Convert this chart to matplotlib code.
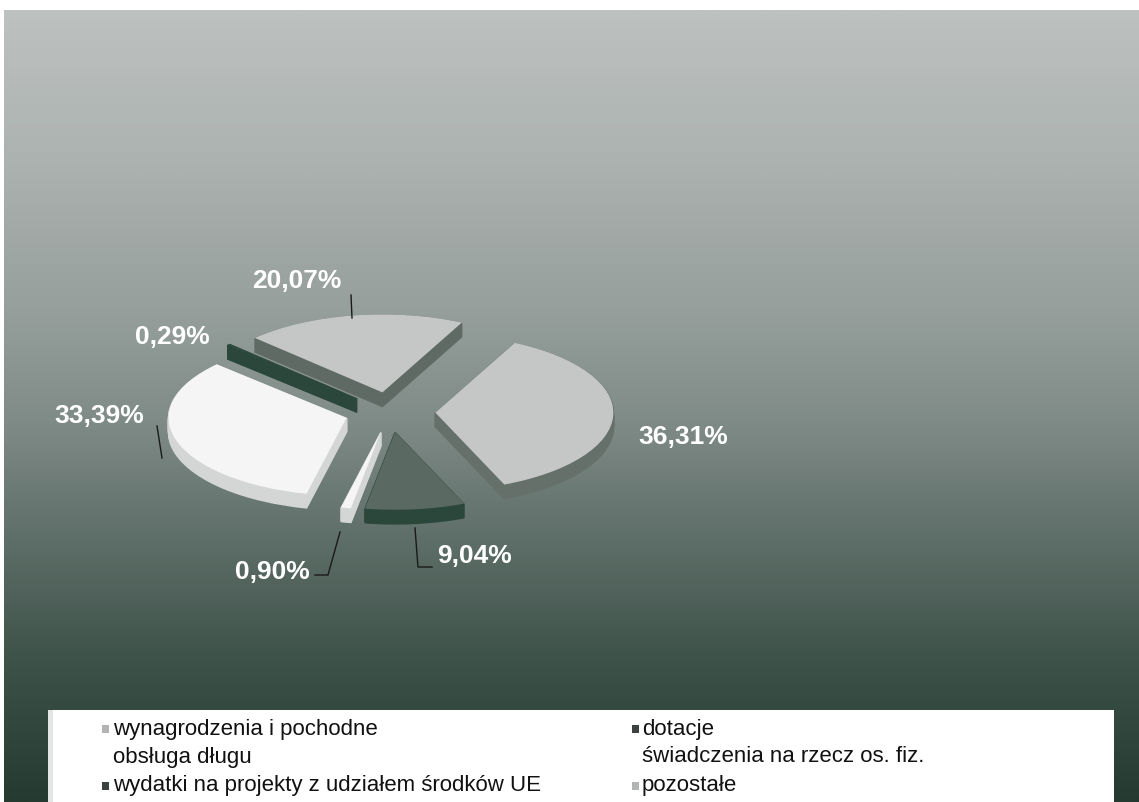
import numpy as np
import matplotlib.pyplot as plt
from matplotlib.colors import LinearSegmentedColormap
from matplotlib.patches import Rectangle

# data
labels = ['wynagrodzenia i pochodne', 'dotacje', 'obsługa długu',
          'świadczenia na rzecz os. fiz.',
          'wydatki na projekty z udziałem środków UE', 'pozostałe']
shares = [36.31, 9.04, 0.90, 33.39, 0.29, 20.07]
pct_labels = ['36,31%', '9,04%', '0,90%', '33,39%', '0,29%', '20,07%']

top_cols = ['#c4c7c5', '#5a6a63', '#f5f5f5', '#f5f5f5', '#344d43', '#c4c7c5']
side_cols = ['#66706b', '#2b463b', '#d4d6d5', '#d4d6d5', '#2b463b', '#5f6a65']
legend_cols = ['#b2b4b3', '#3c423f', 'white', 'white', '#3c423f', '#b2b4b3']

W, H = 1139, 802
cx, cy = 390, 412      # pie centre (pixels)
ra, rb = 178, 78       # pixel per unit in x / y
depth = 14 / rb

def px(x, y):
    return (x - cx) / ra, (cy - y) / rb

fig = plt.figure(figsize=(W / 100, H / 100), dpi=100)
fig.patch.set_facecolor('white')

# gradient background
stops = [(0.0, '#bdc1c0'), (0.18, '#adb3b1'), (0.37, '#97a09d'),
         (0.52, '#7f8b87'), (0.68, '#5c6c66'), (0.83, '#3c5148'),
         (1.0, '#253a30')]
cmap = LinearSegmentedColormap.from_list('bg', stops)
bg = fig.add_axes([4 / W, 0, 1 - 4 / W, (H - 10) / H])
bg.imshow(np.linspace(0, 1, 400).reshape(-1, 1), aspect='auto', cmap=cmap)
bg.axis('off')

ax = fig.add_axes([0, 0, 1, 1])
ax.patch.set_alpha(0)

# side walls, stacked from the bottom up
n = 16
for k in range(n, 0, -1):
    wedges, _ = ax.pie(shares, explode=[0.255] * 6, startangle=63.5,
                       counterclock=False, colors=side_cols,
                       center=(0, -depth * k / n),
                       wedgeprops=dict(linewidth=1.2))
    for w in wedges:
        w.set_edgecolor(w.get_facecolor())
# top faces
ax.pie(shares, explode=[0.255] * 6, startangle=63.5, counterclock=False,
       colors=top_cols, center=(0, 0), wedgeprops=dict(linewidth=0))

ax.set_aspect('auto')
ax.set_xlim(-cx / ra, (W - cx) / ra)
ax.set_ylim(-(H - cy) / rb, cy / rb)
ax.axis('off')

# data labels
label_pos = [(683, 437), (474, 556), (272, 572), (99, 416), (172, 337), (297, 281)]
for txt, (x, y) in zip(pct_labels, label_pos):
    ax.text(*px(x, y), txt, color='white', fontsize=19, fontweight='bold',
            family='Liberation Sans', ha='center', va='center')

leaders = [[(351, 295), (352, 318)],
           [(157, 426), (162, 458)],
           [(415, 528), (418, 567), (432, 567)],
           [(315, 575), (328, 575), (340, 532)]]
for pts in leaders:
    xs, ys = zip(*[px(x, y) for x, y in pts])
    ax.plot(xs, ys, color='#1a1a1a', lw=1)

# legend
fig.add_artist(Rectangle((48 / W, 0), (1114 - 48) / W, (H - 710) / H,
                         transform=fig.transFigure, facecolor='white',
                         edgecolor='none'))
fig.add_artist(Rectangle((48 / W, 0), 5 / W, (H - 710) / H,
                         transform=fig.transFigure, facecolor='#e4e6e5',
                         edgecolor='none'))
col_x = [(102, 113), (632, 642)]
row_y = [729, 757, 786]
for i, lab in enumerate(labels):
    mx, tx = col_x[i % 2]
    y = row_y[i // 2]
    fig.add_artist(Rectangle((mx / W, (H - y - 4) / H), 7 / W, 8 / H,
                             transform=fig.transFigure,
                             facecolor=legend_cols[i], edgecolor='none'))
    fig.text(tx / W, (H - y) / H, lab, fontsize=16, family='Liberation Sans',
             color='#111111', va='center', ha='left')

plt.savefig('out.png', dpi=100)
